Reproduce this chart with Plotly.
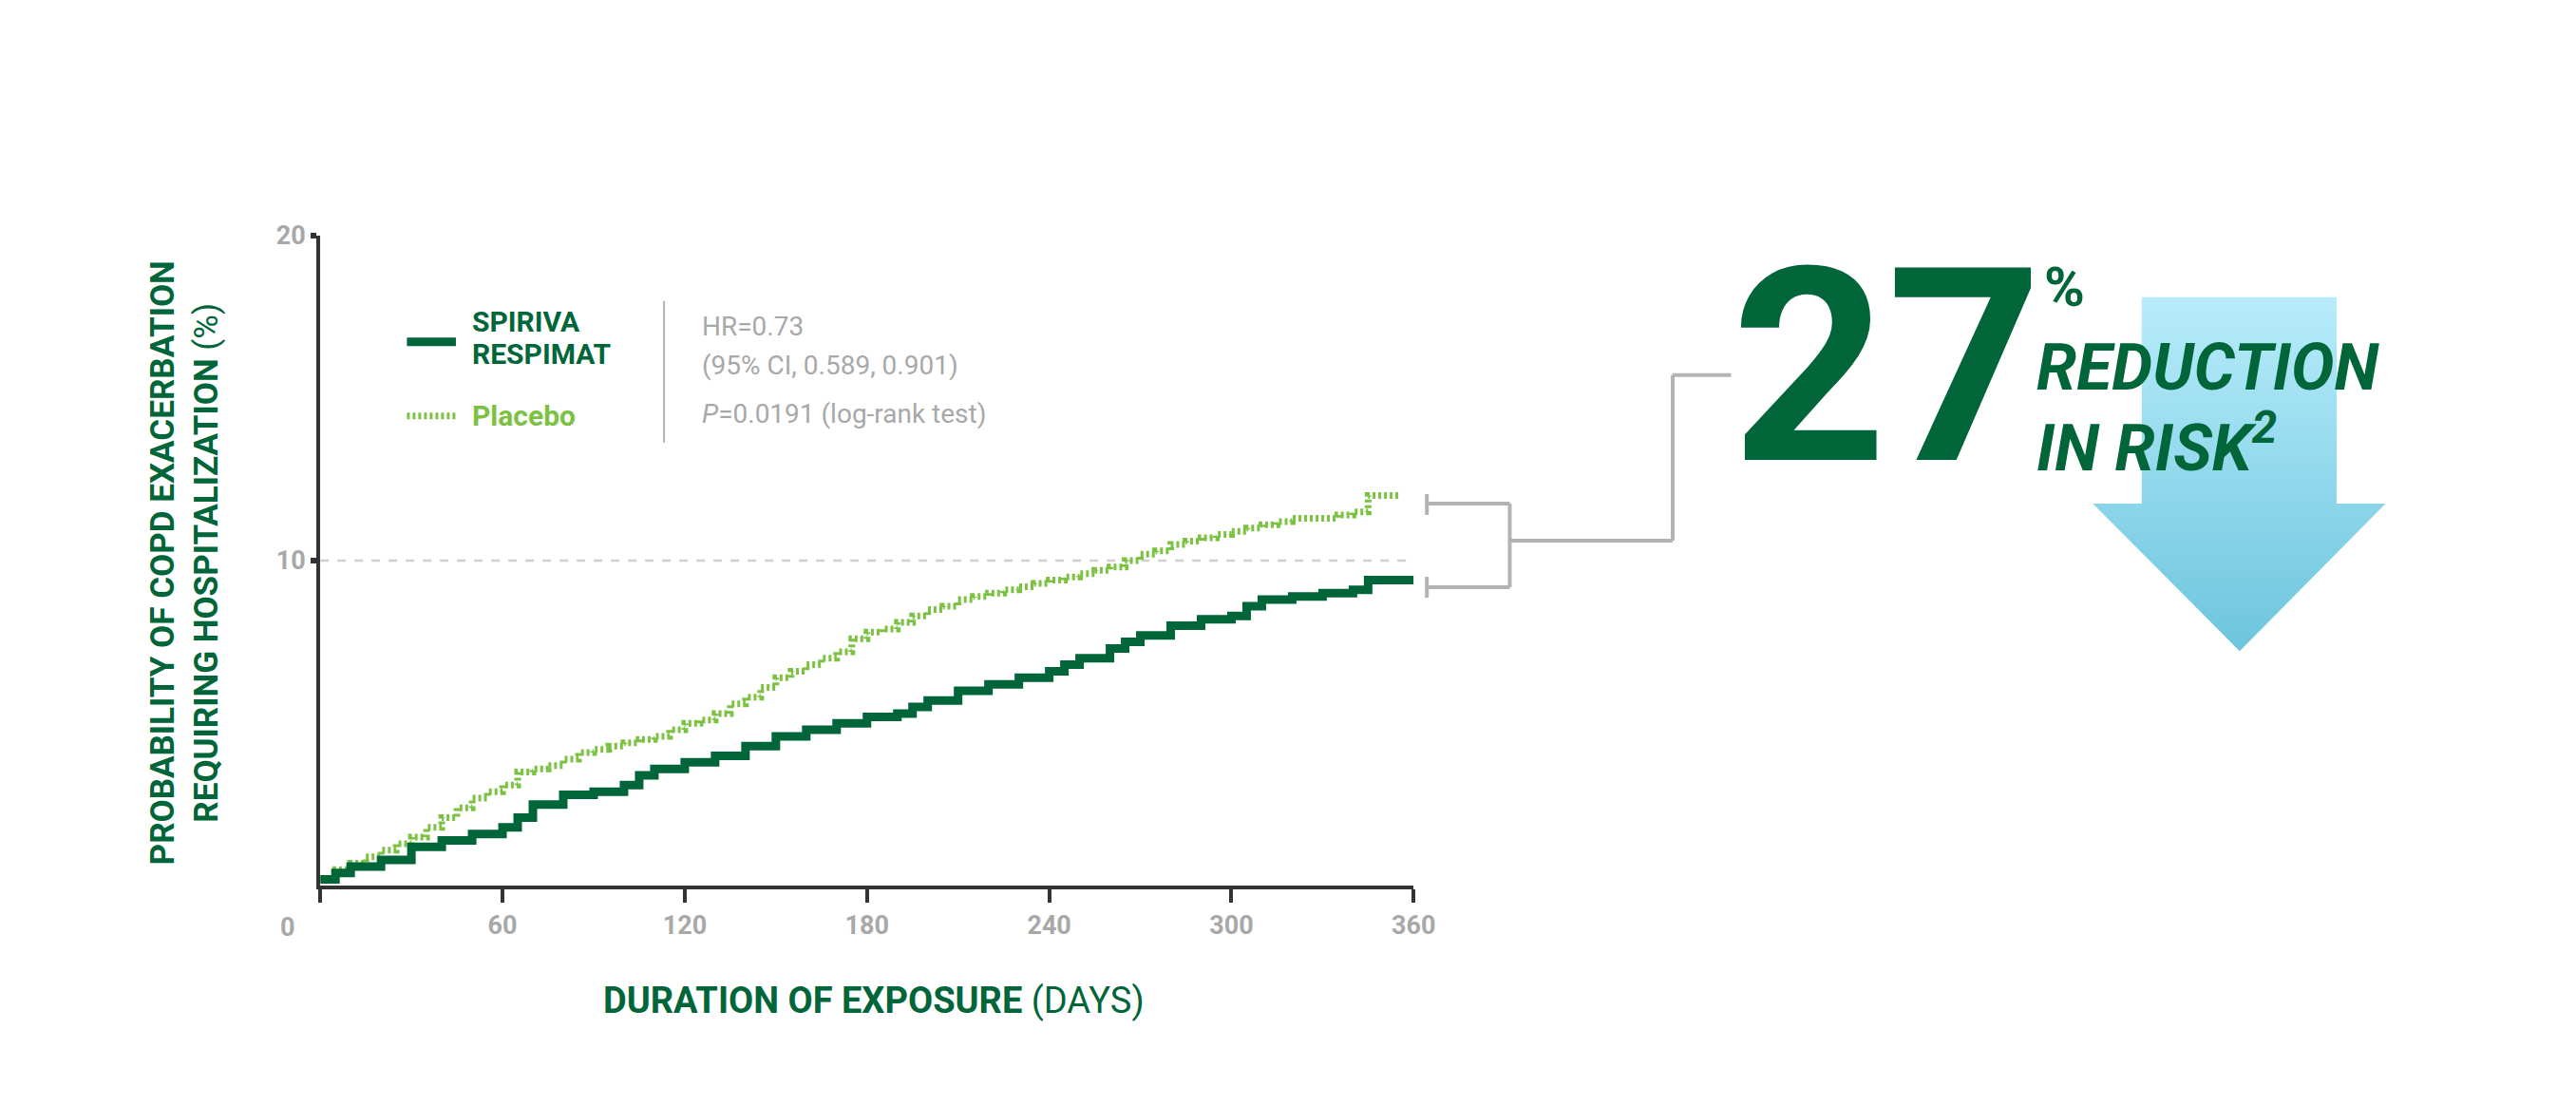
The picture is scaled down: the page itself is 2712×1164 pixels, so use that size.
import plotly.graph_objects as go

W, H = 2712, 1164
DARK = "#00663a"; LIGHT = "#7cc242"; GRAY = "#a8a8a8"; AX = "#333333"

spiriva_days = [0,5,10,20,30,40,50,60,65,70,80,90,100,105,110,120,130,140,150,160,170,180,190,195,200,210,220,230,240,245,250,260,265,270,280,290,300,305,310,320,330,340,345,360]
spiriva_vals = [0.2,0.4,0.6,0.8,1.2,1.4,1.6,1.8,2.1,2.5,2.8,2.9,3.1,3.4,3.6,3.8,4.0,4.3,4.6,4.8,5.0,5.2,5.3,5.5,5.7,6.0,6.2,6.4,6.6,6.8,7.0,7.3,7.5,7.7,8.0,8.2,8.3,8.6,8.8,8.9,9.0,9.1,9.4,9.4]

placebo_days = list(range(0, 360, 5)) + [355]
placebo_vals = [0.2,0.5,0.7,0.9,1.1,1.3,1.5,1.8,2.1,2.4,2.7,2.9,3.1,3.5,3.6,3.7,3.9,4.1,4.2,4.3,4.4,4.5,4.6,4.8,5.0,5.1,5.3,5.6,5.8,6.1,6.4,6.6,6.8,7.0,7.2,7.6,7.8,7.9,8.1,8.3,8.5,8.6,8.8,8.9,9.0,9.1,9.2,9.3,9.4,9.5,9.6,9.7,9.8,10.0,10.2,10.3,10.5,10.6,10.7,10.8,10.9,11.0,11.1,11.2,11.3,11.3,11.3,11.4,11.5,12.0,12.0,12.0,12.0]
placebo_vals = placebo_vals[:len(placebo_days)]

x_ticks = [0, 60, 120, 180, 240, 300, 360]
y_ticks = [10, 20]

def px(x): return x / W
def fy(y): return (y - 22.7) / 0.985
def py(y): return 1 - fy(y) / H

fig = go.Figure()
fig.add_trace(go.Scatter(x=placebo_days, y=placebo_vals, mode="lines", line=dict(color=LIGHT, width=7, dash="3px,3px", shape="hv"), hoverinfo="skip"))
fig.add_trace(go.Scatter(x=spiriva_days, y=spiriva_vals, mode="lines", line=dict(color=DARK, width=9, shape="hv"), hoverinfo="skip"))

# arrow with gradient on a full-figure pixel subplot
ax_x = [2266, 2266, 2214, 2370, 2525, 2473, 2473, 2266]
ax_y = [fy(v) for v in [311, 528, 528, 683, 528, 528, 311, 311]]
fig.add_trace(go.Scatter(x=ax_x, y=ax_y, xaxis="x2", yaxis="y2", mode="lines", line=dict(width=0),
                         fill="toself", fillgradient=dict(type="vertical", colorscale=[[0, "#6cc5de"], [1, "#b8ecfa"]]),
                         hoverinfo="skip"))

fig.update_layout(
    width=W, height=H, margin=dict(l=0, r=0, t=0, b=0), paper_bgcolor="white", plot_bgcolor="rgba(0,0,0,0)",
    showlegend=False,
    xaxis=dict(domain=[px(332), px(1493)], range=[0, 360], tickvals=x_ticks, ticktext=[""] + [str(v) for v in x_ticks[1:]],
               showgrid=False, zeroline=False, showline=True, linecolor=AX, linewidth=4, ticks="outside", ticklen=14,
               tickwidth=4, tickcolor=AX, tickfont=dict(family="Roboto", size=27, color=GRAY, weight="bold")),
    yaxis=dict(domain=[py(930), py(246)], range=[0, 20], tickvals=y_ticks, showgrid=False, zeroline=False,
               showline=True, linecolor=AX, linewidth=4, ticks="outside", ticklen=6, tickwidth=6, tickcolor=AX,
               tickfont=dict(family="Roboto", size=27, color=GRAY, weight="bold")),
    xaxis2=dict(domain=[0, 1], range=[0, W], visible=False, anchor="y2"),
    yaxis2=dict(domain=[0, 1], range=[H, 0], visible=False, anchor="x2"),
)

shapes = [
    dict(type="line", xref="x", yref="y", x0=0, x1=360, y0=10, y1=10, line=dict(color="#d0d0d0", width=2.5, dash="dash"), layer="below"),
    dict(type="line", xref="paper", yref="paper", x0=px(424), x1=px(476), y0=py(358), y1=py(358), line=dict(color=DARK, width=9)),
    dict(type="line", xref="paper", yref="paper", x0=px(424), x1=px(476), y0=py(436), y1=py(436), line=dict(color=LIGHT, width=7, dash="3px,3px")),
    dict(type="line", xref="paper", yref="paper", x0=px(697), x1=px(697), y0=py(315), y1=py(464), line=dict(color="#b5b5b5", width=2)),
]
br = "#b3b3b3"
def seg(x0, y0, x1, y1):
    shapes.append(dict(type="line", xref="paper", yref="paper", x0=px(x0), x1=px(x1), y0=py(y0), y1=py(y1), line=dict(color=br, width=4)))
seg(1507, 518, 1507, 540); seg(1507, 605, 1507, 627)
seg(1507, 528, 1595, 528); seg(1507, 616, 1595, 616); seg(1595, 528, 1595, 616)
seg(1595, 567, 1768, 567); seg(1768, 567, 1768, 393); seg(1768, 393, 1830, 393)
fig.update_layout(shapes=shapes)

def ann(text, x, y, size, color, xanchor="left", yanchor="middle", family="Roboto", angle=0, align="left"):
    fig.add_annotation(text=text, x=px(x), y=py(y), xref="paper", yref="paper", showarrow=False, xanchor=xanchor,
                       yanchor=yanchor, font=dict(family=family, size=size, color=color), textangle=angle, align=align)

ann("<b>0</b>", 298, 973, 27, GRAY, xanchor="center")
ann("<b>SPIRIVA</b>", 491, 337, 30, DARK)
ann("<b>RESPIMAT</b>", 491, 371, 30, DARK)
ann("<b>Placebo</b>", 491, 436, 30, LIGHT)
ann("HR=0.73", 735, 342, 28, GRAY)
ann("(95% CI, 0.589, 0.901)", 735, 383, 28, GRAY)
ann("<i>P</i>=0.0191 (log-rank test)", 735, 434, 28, GRAY)
ann("<b>DURATION OF EXPOSURE</b> (DAYS)", 920, 1050, 38, DARK, xanchor="center")
ann("<b>PROBABILITY OF COPD EXACERBATION<br>REQUIRING HOSPITALIZATION</b> (%)", 188, 590, 35, DARK, xanchor="center", angle=-90, align="center")
ann("<b>27</b>", 1995, 385, 285, DARK, xanchor="center")
ann("<b>%</b>", 2160, 300, 58, DARK)
ann("<b><i>REDUCTION</i></b>", 2152, 385, 68, DARK)
ann("<b><i>IN RISK<sup>2</sup></i></b>", 2152, 465, 68, DARK)

fig.write_html("out.html")
